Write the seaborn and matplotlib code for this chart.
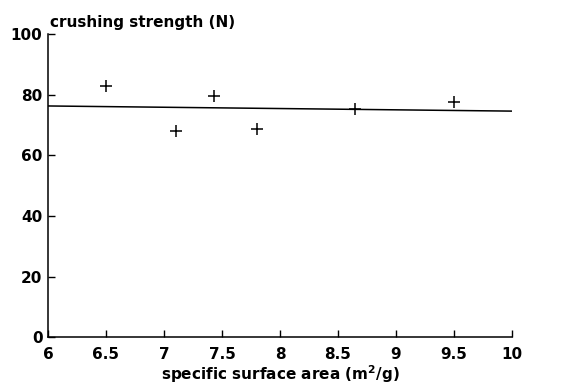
import numpy as np
import pandas as pd
import matplotlib
matplotlib.use('Agg')
import matplotlib.pyplot as plt
import seaborn as sns

# measured points
surface_area = [6.5, 7.1, 7.43, 7.8, 8.65, 9.5]
strength = [83, 68, 79.5, 68.8, 75.2, 77.5]

# fitted line end points
fit_x = [6, 10]
fit_y = [76.3, 74.6]

sns.set_style('ticks')
plt.rcParams['font.family'] = ['DejaVu Sans']
plt.rcParams['font.weight'] = 'bold'
plt.rcParams['text.color'] = 'black'
plt.rcParams['xtick.color'] = 'black'
plt.rcParams['ytick.color'] = 'black'
plt.rcParams['xtick.direction'] = 'in'
plt.rcParams['ytick.direction'] = 'in'

fig = plt.figure(figsize=(5.82, 3.88), dpi=100)
ax = fig.add_axes([0.0825, 0.131, 0.797, 0.781])

pts = pd.DataFrame({'x': surface_area, 'y': strength})
sns.scatterplot(data=pts, x='x', y='y', marker='+', s=70, color='black',
                linewidth=1.1, ax=ax)
sns.lineplot(x=fit_x, y=fit_y, color='black', linewidth=1.1, ax=ax)

ax.set_xlim(6, 10)
ax.set_ylim(0, 100)
ax.set_xticks(np.arange(6, 10.01, 0.5))
ax.set_xticklabels(['6', '6.5', '7', '7.5', '8', '8.5', '9', '9.5', '10'])
ax.set_yticks([0, 20, 40, 60, 80, 100])
ax.tick_params(direction='in', length=5, width=1, labelsize=11,
               colors='black')
ax.tick_params(axis='x', pad=7)
ax.tick_params(axis='y', pad=4)
for lab in ax.get_xticklabels() + ax.get_yticklabels():
    lab.set_fontweight('bold')
sns.despine(ax=ax)
for s in ['left', 'bottom']:
    ax.spines[s].set_linewidth(1.1)
    ax.spines[s].set_color('black')

ax.set_xlabel('specific surface area (m$^\\mathbf{2}$/g)', fontsize=11,
              fontweight='bold', labelpad=1, color='black')
ax.set_ylabel('')
fig.text(0.086, 0.943, 'crushing strength (N)', fontsize=11,
         fontweight='bold', va='center', color='black')

fig.savefig('out.png', dpi=100)
